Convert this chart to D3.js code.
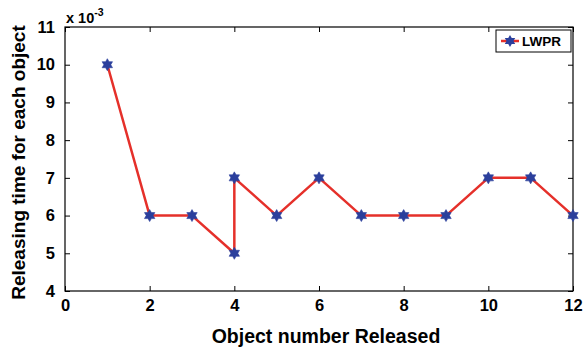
<!DOCTYPE html>
<html><head><meta charset="utf-8">
<script src="https://cdn.jsdelivr.net/npm/d3@7"></script>
<style>body{margin:0;background:#fff}svg{display:block}text{font-family:"Liberation Sans",Arial,sans-serif;font-weight:bold}</style>
</head><body>
<script>
const objectNumbers = [1,2,3,4,4,5,6,7,8,9,10,11,12];
const releaseTimes = [10,6,6,5,7,6,7,6,6,6,7,7,6]; // x 10^-3
const xTicks = [0,2,4,6,8,10,12];
const yTicks = [4,5,6,7,8,9,10,11];
const seriesName = "LWPR";

const W=588,H=349;
const m={l:65,r:15,t:27,b:58};
const svg=d3.select("body").append("svg").attr("width",W).attr("height",H);
const x=d3.scaleLinear().domain([0,12]).range([m.l,W-m.r]);
const y=d3.scaleLinear().domain([4,11]).range([H-m.b,m.t]);
const red="#e5302a", blue="#2b3f9c";

svg.append("rect").attr("x",x(0)).attr("y",y(11)).attr("width",x(12)-x(0)).attr("height",y(4)-y(11))
 .attr("fill","none").attr("stroke","#000").attr("stroke-width",1.2);

const fmt=d3.format("d");
const xa=svg.append("g").attr("transform",`translate(0,${y(4)})`)
 .call(d3.axisBottom(x).tickValues(xTicks).tickFormat(fmt).tickSize(-5).tickPadding(8));
const xt=svg.append("g").attr("transform",`translate(0,${y(11)})`)
 .call(d3.axisTop(x).tickValues(xTicks).tickSize(-5).tickFormat(""));
const ya=svg.append("g").attr("transform",`translate(${x(0)},0)`)
 .call(d3.axisLeft(y).tickValues(yTicks).tickFormat(fmt).tickSize(-5).tickPadding(10));
const yr=svg.append("g").attr("transform",`translate(${x(12)},0)`)
 .call(d3.axisRight(y).tickValues(yTicks).tickSize(-5).tickFormat(""));
[xa,xt,ya,yr].forEach(g=>{g.select(".domain").remove();g.selectAll("line").attr("stroke","#000").attr("stroke-width",1);
 g.selectAll("text").attr("font-size",16.5).attr("fill","#000").style("font-family","Liberation Sans, Arial").style("font-weight","bold");});

const ex=svg.append("text").attr("x",x(0)+1).attr("y",23).attr("font-size",14.5).attr("fill","#000");
ex.append("tspan").text("x 10");
ex.append("tspan").attr("dy",-7).attr("font-size",10.5).text("-3");

const line=d3.line().x((d,i)=>x(objectNumbers[i])).y(d=>y(d));
svg.append("path").datum(releaseTimes).attr("d",line).attr("fill","none").attr("stroke",red).attr("stroke-width",2.5).attr("stroke-linejoin","round");

function hexagram(r){
 const pts=[];
 for(let k=0;k<12;k++){const a=-Math.PI/2+k*Math.PI/6;const rr=k%2===0?r:r*0.58;pts.push([rr*Math.cos(a),rr*Math.sin(a)]);}
 return "M"+pts.map(p=>p.join(",")).join("L")+"Z";
}
svg.selectAll(".mk").data(releaseTimes).enter().append("path")
 .attr("d",hexagram(6)).attr("transform",(d,i)=>`translate(${x(objectNumbers[i])},${y(d)})`)
 .attr("fill",blue).attr("stroke",blue).attr("stroke-width",0.6);

const lg=svg.append("g").attr("transform","translate(496,30)");
lg.append("rect").attr("width",75).attr("height",22).attr("fill","#fff").attr("stroke","#000").attr("stroke-width",1);
lg.append("line").attr("x1",5).attr("x2",23).attr("y1",11).attr("y2",11).attr("stroke",red).attr("stroke-width",2.5);
lg.append("path").attr("d",hexagram(6)).attr("transform","translate(14,11)").attr("fill",blue);
lg.append("text").attr("x",26).attr("y",16).attr("font-size",13.5).attr("fill","#000").text(seriesName);

svg.append("text").attr("x",(x(0)+x(12))/2+7).attr("y",343).attr("text-anchor","middle").attr("font-size",19.5).attr("fill","#000").text("Object number Released");
svg.append("text").attr("transform",`translate(25,${(23+302)/2}) rotate(-90)`).attr("text-anchor","middle").attr("font-size",19).attr("fill","#000").text("Releasing time for each object");
</script>
</body></html>
